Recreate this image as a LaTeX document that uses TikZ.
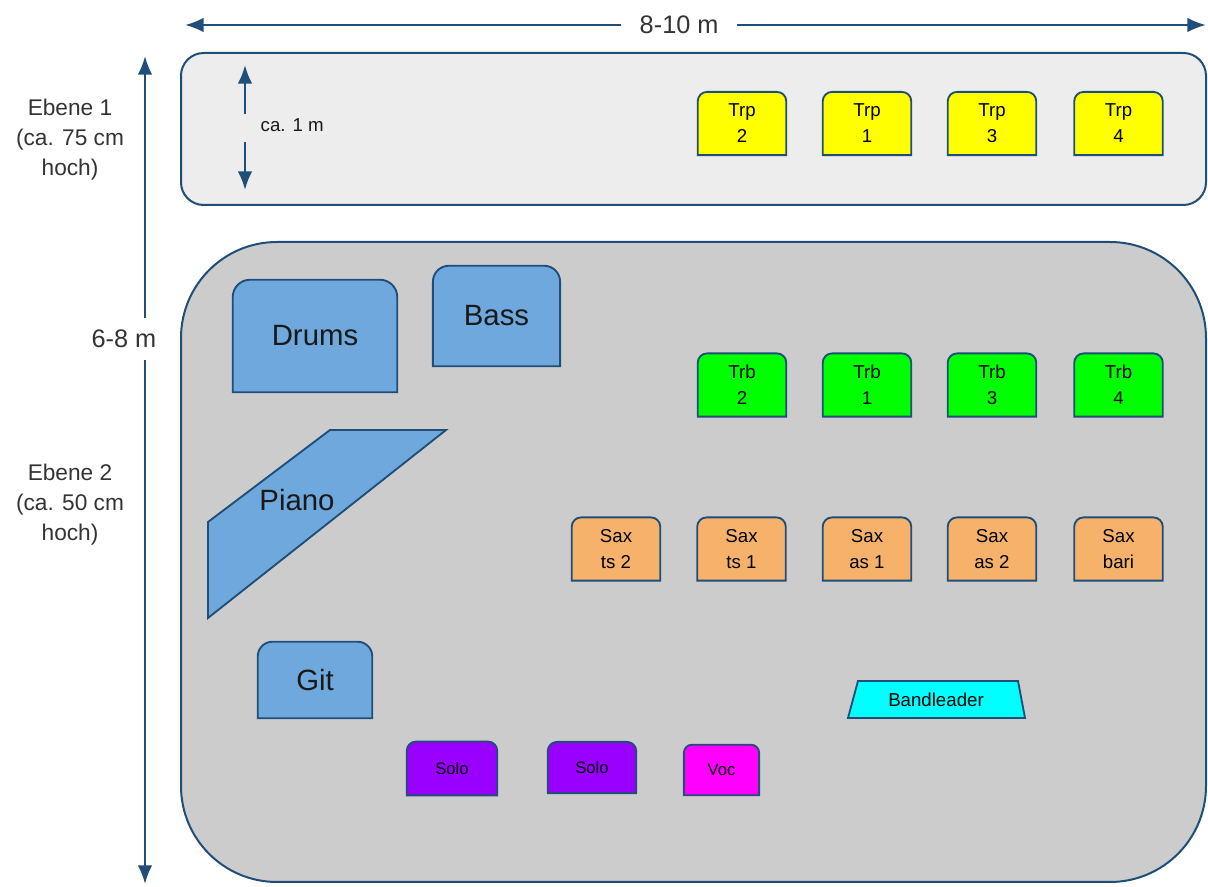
\documentclass[tikz,border=0pt]{standalone}
\usepackage{fontspec}
\setmainfont{Liberation Sans}
\usetikzlibrary{arrows.meta,backgrounds}
\definecolor{rim}{HTML}{1F4E79}
\definecolor{floorA}{HTML}{EDEDED}
\definecolor{floorB}{HTML}{CCCCCC}
\definecolor{rhythm}{HTML}{6FA8DC}
\definecolor{trpcol}{HTML}{FFFF00}
\definecolor{trbcol}{HTML}{00FF00}
\definecolor{saxcol}{HTML}{F6B26B}
\definecolor{solocol}{HTML}{9900FF}
\definecolor{voccol}{HTML}{FF00FF}
\definecolor{leadcol}{HTML}{00FFFF}
\tikzset{every node/.style={align=center}, >={Latex[length=14pt,width=11pt]},
  dim/.style={draw=rim, line width=1.8pt},
  dimlabel/.style={fill=white, text=black!80, font=\fontsize{19}{22}\selectfont},
  calabel/.style={text=black!90, font=\fontsize{14}{16}\selectfont},
  level/.style={text=black!80, font=\fontsize{17}{22.5}\selectfont},
  stage/.style={draw=rim, line width=1.5pt},
  outline/.style={draw=rim, line width=1.4pt},
  section/.style={minimum width=66pt, minimum height=47pt, inner sep=0pt, font=\fontsize{14}{19.5}\selectfont},
  rhythmsec/.style={inner sep=0pt, text=black!90, font=\fontsize{22}{26}\selectfont},
  front/.style={inner sep=0pt, font=\fontsize{12.5}{14}\selectfont}}

\begin{document}
\begin{tikzpicture}[x=0.75pt, y=-0.75pt]
  \useasboundingbox (0,0) rectangle (1208,887);
  % Ebenen
  \begin{scope}[on background layer]
    \draw[stage, fill=floorA, rounded corners=17pt] (181,53) rectangle (1206,205);
    \draw[stage, fill=floorB, rounded corners=72pt] (181,242) rectangle (1206,882);
  \end{scope}

  % Masse
  \coordinate (wW) at (185,25);
  \coordinate (wE) at (1206,25);
  \draw[dim,<->] (wW) -- node[dimlabel, pos=0.484, inner xsep=14pt] (wlabel) {8-10 m} (wE);
  \coordinate (hN) at (145,56);
  \coordinate (hS) at (145,884);
  \draw[dim,<->] (hN) -- (hS);
  \node[dimlabel, inner ysep=9pt] (hlabel) at (124,339) {6-8 m};
  \node[level] (eb1) at (70,140) {Ebene 1\\(ca. 75 cm\\hoch)};
  \node[level] (eb2) at (70,505) {Ebene 2\\(ca. 50 cm\\hoch)};
  \node[calabel, anchor=west] (ca) at (256,125) {ca. 1 m};
  \coordinate (caA) at (245,114);
  \coordinate (caB) at (245,65);
  \coordinate (caC) at (245,142);
  \coordinate (caD) at (245,190);
  \draw[dim,->] (caA) -- (caB);
  \draw[dim,->] (caC) -- (caD);

  % Trompeten
  \node[section] (trp2) at (742,123.5) {Trp\\2};
  \node[section] (trp1) at (867,123.5) {Trp\\1};
  \node[section] (trp3) at (992,123.5) {Trp\\3};
  \node[section] (trp4) at (1118.5,123.5) {Trp\\4};
  % Posaunen
  \node[section] (trb2) at (742,385) {Trb\\2};
  \node[section] (trb1) at (867,385) {Trb\\1};
  \node[section] (trb3) at (992,385) {Trb\\3};
  \node[section] (trb4) at (1118.5,385) {Trb\\4};
  % Saxophone
  \node[section] (saxts2) at (616,549) {Sax\\ts 2};
  \node[section] (saxts1) at (741.5,549) {Sax\\ts 1};
  \node[section] (saxas1) at (867,549) {Sax\\as 1};
  \node[section] (saxas2) at (992,549) {Sax\\as 2};
  \node[section] (saxbari) at (1118.5,549) {Sax\\bari};
  % Rhythmusgruppe
  \node[rhythmsec, minimum width=123pt, minimum height=84pt] (drums) at (315,336) {Drums};
  \node[rhythmsec, minimum width=95pt, minimum height=75pt] (bass) at (496.5,316) {Bass};
  \node[rhythmsec] (piano) at (297,500) {Piano};
  \node[rhythmsec, minimum width=85.5pt, minimum height=57pt] (git) at (315,680) {Git};
  % vorne
  \node[front, minimum width=67.5pt, minimum height=40pt] (solo1) at (452,768.5) {Solo};
  \node[front, minimum width=66pt, minimum height=38pt] (solo2) at (592,767.5) {Solo};
  \node[front, minimum width=56pt, minimum height=37.5pt] (voc) at (721.5,770) {Voc};
  \node[front, font=\fontsize{14}{16}\selectfont] (lead) at (936,700) {Bandleader};

  \begin{scope}[on background layer]
    \foreach \n/\c/\r in {trp2/trpcol/7pt, trp1/trpcol/7pt, trp3/trpcol/7pt, trp4/trpcol/7pt,
        trb2/trbcol/7pt, trb1/trbcol/7pt, trb3/trbcol/7pt, trb4/trbcol/7pt,
        saxts2/saxcol/7pt, saxts1/saxcol/7pt, saxas1/saxcol/7pt, saxas2/saxcol/7pt, saxbari/saxcol/7pt,
        drums/rhythm/13pt, bass/rhythm/12pt, git/rhythm/11pt,
        solo1/solocol/7pt, solo2/solocol/7pt, voc/voccol/6pt}
      \draw[outline, fill=\c] (\n.south west) -- ([yshift=-\r]\n.north west)
        arc[start angle=180, end angle=90, radius=\r] -- ([xshift=-\r]\n.north east)
        arc[start angle=90, end angle=0, radius=\r] -- (\n.south east) -- cycle;
    \draw[outline, fill=rhythm] (208,618) -- (208,522) -- (330,430) -- (446,430) -- cycle;
    \draw[outline, fill=leadcol] (848,718) -- (858,681) -- (1018,681) -- (1025,718) -- cycle;
  \end{scope}
\end{tikzpicture}
\end{document}
